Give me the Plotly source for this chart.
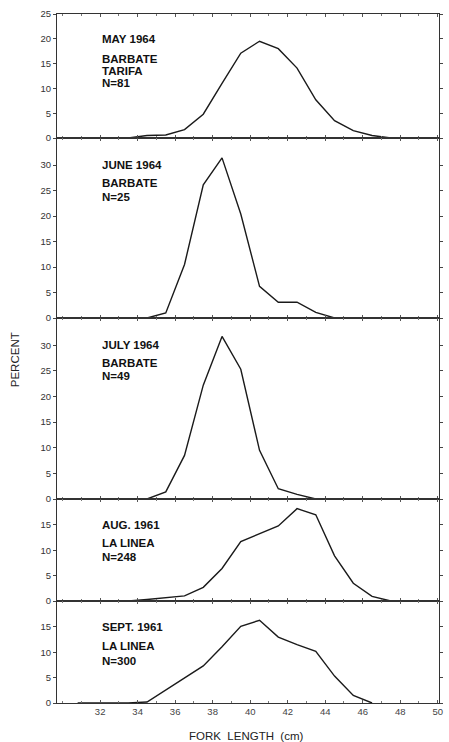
import plotly.graph_objects as go
from plotly.subplots import make_subplots

# ---- data (fork length midpoints, cm ; percent) ----
may_len = [30.5, 31.5, 32.5, 33.5, 34.5, 35.5, 36.5, 37.5, 38.5, 39.5, 40.5, 41.5, 42.5, 43.5, 44.5, 45.5, 46.5, 47.5]
may_pct = [0, 0, 0, 0, 0.5, 0.6, 1.7, 4.8, 11.0, 17.1, 19.5, 18.0, 14.1, 7.7, 3.5, 1.5, 0.5, 0]

june_len = [30.5, 31.5, 32.5, 33.5, 34.5, 35.5, 36.5, 37.5, 38.5, 39.5, 40.5, 41.5, 42.5, 43.5, 44.5]
june_pct = [0, 0, 0, 0, 0, 1.0, 10.5, 26.1, 31.4, 20.4, 6.2, 3.1, 3.1, 1.1, 0]

july_len = [30.5, 31.5, 32.5, 33.5, 34.5, 35.5, 36.5, 37.5, 38.5, 39.5, 40.5, 41.5, 42.5, 43.5]
july_pct = [0, 0, 0, 0, 0, 1.4, 8.5, 22.2, 31.7, 25.3, 9.5, 2.0, 0.9, 0]

aug_len = [30.5, 31.5, 32.5, 33.5, 34.5, 35.5, 36.5, 37.5, 38.5, 39.5, 40.5, 41.5, 42.5, 43.5, 44.5, 45.5, 46.5, 47.5]
aug_pct = [0, 0, 0, 0, 0.3, 0.7, 1.0, 2.7, 6.4, 11.7, 13.3, 14.8, 18.2, 17.0, 8.9, 3.5, 0.9, 0]

sept_len = [30.8, 31.5, 32.5, 33.5, 34.5, 35.5, 36.5, 37.5, 38.5, 39.5, 40.5, 41.5, 42.5, 43.5, 44.5, 45.5, 46.5]
sept_pct = [0, 0, 0, 0, 0.2, 2.6, 5.0, 7.3, 11.1, 15.1, 16.3, 13.0, 11.5, 10.2, 5.3, 1.5, 0]

panel_labels = [
    ["MAY 1964", "BARBATE", "TARIFA", "N=81"],
    ["JUNE 1964", "BARBATE", "N=25"],
    ["JULY 1964", "BARBATE", "N=49"],
    ["AUG. 1961", "LA LINEA", "N=248"],
    ["SEPT. 1961", "LA LINEA", "N=300"],
]
y_ticks = [[0, 5, 10, 15, 20, 25], [0, 5, 10, 15, 20, 25, 30], [0, 5, 10, 15, 20, 25, 30],
           [0, 5, 10, 15], [0, 5, 10, 15]]
x_ticks = [32, 34, 36, 38, 40, 42, 44, 46, 48, 50]

# ---- layout parameters ----
y_ranges = [[0, 25], [0, 35.3], [0, 35.3], [0, 20.1], [0, 20.1]]
heights = [124, 180, 181, 102, 102]
label_y = [[20, 15.9, 13.5, 11.1], [30, 26.4, 23.7], [30, 26.6, 23.9], [15, 11.4, 8.6], [15, 11.2, 8.2]]

series = [(may_len, may_pct), (june_len, june_pct), (july_len, july_pct),
          (aug_len, aug_pct), (sept_len, sept_pct)]

fig = make_subplots(rows=5, cols=1, shared_xaxes=True, vertical_spacing=0,
                    row_heights=heights)

ink = "#1a1a1a"
font_fam = "Liberation Sans, Arial, sans-serif"

for i, (xs, ys) in enumerate(series):
    r = i + 1
    fig.add_trace(go.Scatter(x=xs, y=ys, mode="lines",
                             line=dict(color=ink, width=1.4), showlegend=False,
                             hoverinfo="skip"), row=r, col=1)
    fig.update_yaxes(range=y_ranges[i], tickvals=y_ticks[i], ticks="outside", ticklen=3,
                     tickcolor="#444", showline=True, linecolor="#333", linewidth=1,
                     mirror="ticks", showgrid=False, zeroline=False,
                     tickfont=dict(size=9.5, color="#333", family=font_fam),
                     row=r, col=1)
    fig.update_xaxes(range=[29.7, 50.07], tickvals=x_ticks, ticks="inside", ticklen=3,
                     tickcolor="#555", showline=True, linecolor="#333", linewidth=1,
                     mirror="ticks", showgrid=False, zeroline=False,
                     showticklabels=(r == 5), ticklabeloverflow="allow",
                     minor=dict(dtick=1, ticks="inside", ticklen=2, tickcolor="#777"),
                     tickfont=dict(size=9.5, color="#444", family=font_fam),
                     row=r, col=1)
    yref = "y" if r == 1 else f"y{r}"
    xref = "x" if r == 1 else f"x{r}"
    for j, (txt, yy) in enumerate(zip(panel_labels[i], label_y[i])):
        fig.add_annotation(x=32, y=yy, xref=xref, yref=yref, text=txt, showarrow=False,
                           xanchor="left", yanchor="middle",
                           font=dict(size=11.5, color="#111", family=font_fam,
                                     weight="bold"))

fig.add_annotation(x=-0.109, y=0.498, xref="paper", yref="paper", text="PERCENT",
                   textangle=-90, showarrow=False, xanchor="center", yanchor="middle",
                   font=dict(size=11.5, color="#222", family=font_fam))
fig.add_annotation(x=0.495, y=-0.048, xref="paper", yref="paper", text="FORK  LENGTH  (cm)",
                   showarrow=False, xanchor="center", yanchor="middle",
                   font=dict(size=11.5, color="#222", family=font_fam))

fig.update_layout(width=449, height=742, margin=dict(l=57, r=6, t=14, b=39),
                  plot_bgcolor="white", paper_bgcolor="white", showlegend=False)

# remove the browser's default page margin so the figure fills the window exactly
fig.write_html("out.html",
               config={"displayModeBar": False},
               post_script="document.documentElement.style.margin='0';"
                           "document.body.style.margin='0';"
                           "document.body.style.overflow='hidden';")
